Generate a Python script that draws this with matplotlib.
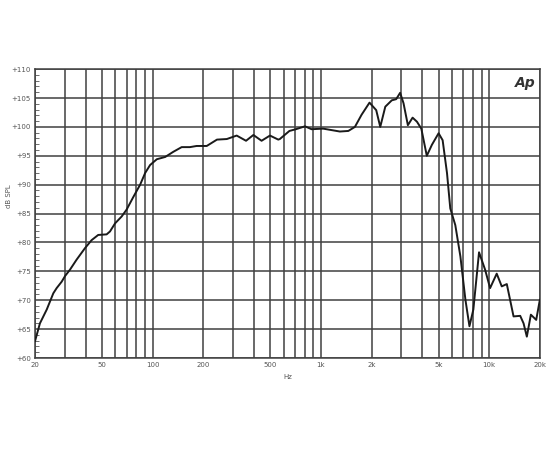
import numpy as np
import matplotlib
matplotlib.use('Agg')
import matplotlib.pyplot as plt
from matplotlib.ticker import FixedLocator, NullFormatter

# frequency response (Hz, dB SPL)
freq = [20, 21.4, 23.5, 25.7, 26.9, 28.8, 30.2, 32.3, 35.3, 39.6, 43.4, 47.5,
        53.3, 55.8, 59.8, 65.5, 70.1, 76.9, 84.3, 90.2, 96.6, 105.9, 118.8,
        132.9, 148.8, 166.6, 182.6, 209.7, 241.2, 276, 315.8, 359, 397, 444,
        498, 558, 570, 650, 710, 804, 880, 1030, 1296, 1455, 1592, 1744, 1944,
        2131, 2252, 2413, 2637, 2800, 2956, 3096, 3286, 3505, 3720, 3950, 4257,
        4565, 5003, 5287, 5613, 5870, 6288, 6740, 7220, 7630, 8050, 8700, 9450,
        10120, 11080, 11870, 12720, 13950, 15280, 16000, 16730, 17680, 19020,
        20000]
spl = [62.9, 66.0, 68.4, 71.2, 72.1, 73.2, 74.2, 75.3, 77.0, 79.0, 80.4, 81.3,
       81.4, 81.9, 83.3, 84.5, 85.7, 87.9, 90.0, 92.0, 93.4, 94.4, 94.8,
       95.7, 96.5, 96.5, 96.7, 96.7, 97.8, 97.9, 98.5, 97.6, 98.6, 97.6,
       98.5, 97.8, 97.9, 99.3, 99.6, 100.1, 99.6, 99.7, 99.2, 99.3, 100.0, 102.1, 104.2,
       102.9, 100.0, 103.5, 104.6, 104.8, 105.9, 104.1, 100.3, 101.6, 100.9, 99.7, 95.0,
       96.9, 98.9, 97.7, 92.0, 85.9, 83.0, 77.6, 70.1, 65.5, 68.4, 78.3, 75.3,
       72.1, 74.6, 72.4, 72.8, 67.2, 67.3, 66.0, 63.7, 67.5, 66.6,
       70.1]

x_major = [20, 50, 100, 200, 500, 1000, 2000, 5000, 10000, 20000]
x_labels = ['20', '50', '100', '200', '500', '1k', '2k', '5k', '10k', '20k']
x_grid = [30, 40, 60, 70, 80, 90, 300, 400, 600, 700, 800, 900,
          3000, 4000, 6000, 7000, 8000, 9000]
y_major = list(range(60, 111, 5))
y_labels = ['+{}'.format(v) for v in y_major]

fig = plt.figure(figsize=(5.5, 4.5), dpi=100)
ax = fig.add_axes([0.0636, 0.2044, 0.918, 0.642])

gc = '#404040'
ax.plot(freq, spl, color='#1a1a1a', lw=1.4, zorder=3,
        solid_joinstyle='round', solid_capstyle='round')

ax.set_xscale('log')
ax.set_xlim(20, 20000)
ax.set_ylim(60, 110)

ax.set_xticks(x_major)
ax.set_xticklabels(x_labels)
ax.xaxis.set_minor_locator(FixedLocator(x_grid))
ax.xaxis.set_minor_formatter(NullFormatter())
ax.set_yticks(y_major)
ax.set_yticklabels(y_labels)
ax.yaxis.set_minor_locator(FixedLocator(np.arange(60, 111, 1)))

ax.xaxis.grid(True, which='both', color=gc, lw=1.1)
ax.yaxis.grid(True, which='major', color=gc, lw=1.1)

ax.tick_params(axis='x', which='both', length=0, labelsize=5, colors='#555555', pad=3)
ax.tick_params(axis='y', which='major', length=0, labelsize=5, colors='#555555', pad=3)
ax.tick_params(axis='y', which='minor', direction='in', length=3, width=0.6, color='#555555')

for s in ax.spines.values():
    s.set_color(gc)
    s.set_linewidth(1.1)

ax.set_xlabel('Hz', fontsize=5, color='#555555', labelpad=4)
ax.set_ylabel('dB SPL', fontsize=5, color='#555555')
ax.yaxis.set_label_coords(-0.045, 0.56)

ax.text(0.992, 0.975, 'Ap', transform=ax.transAxes, ha='right', va='top',
        fontsize=10, fontweight='bold', fontstyle='italic', color='#333333')

plt.savefig('out.png', dpi=100)
